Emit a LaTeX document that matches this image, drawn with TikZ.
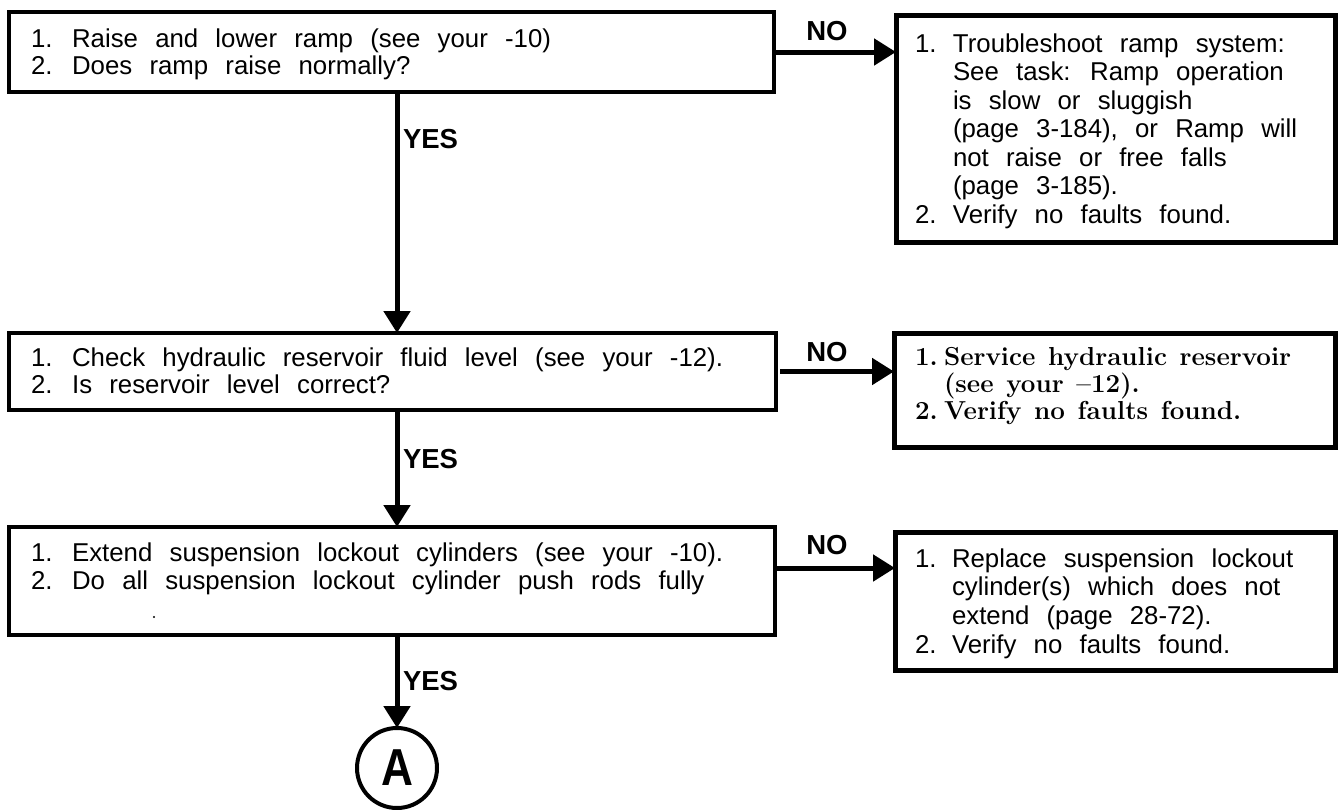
\documentclass[tikz,border=0pt]{standalone}
\usepackage{fontspec}
\setmainfont{Liberation Sans}[WordSpace=2.4]
\newfontfamily\serifb{Latin Modern Roman}[WordSpace=1.3]
\usetikzlibrary{arrows.meta}
\tikzset{
  lbox/.style={draw, line width=4pt, rectangle, inner sep=0pt, outer sep=0pt, anchor=north west},
  rbox/.style={draw, line width=5pt, rectangle, inner sep=0pt, outer sep=0pt, anchor=north west},
  conn/.style={line width=5pt, -{Triangle[length=22pt,width=26pt]}},
  txt/.style={anchor=base west, inner sep=0pt, outer sep=0pt},
  yn/.style={font=\fontsize{27.5}{30}\selectfont\bfseries, inner sep=0pt, outer sep=0pt},
}
\begin{document}
\begin{tikzpicture}[x=1pt,y=-1pt]
\useasboundingbox (0,0) rectangle (1338,809);
% boxes
\node[lbox, minimum width=765pt, minimum height=80pt] (b1) at (9,12) {};
\node[rbox, minimum width=439pt, minimum height=227pt] (r1) at (896,15) {};
\node[lbox, minimum width=767pt, minimum height=77pt] (b2) at (9,333) {};
\node[rbox, minimum width=441pt, minimum height=114pt] (r2) at (894,333) {};
\node[lbox, minimum width=766pt, minimum height=108pt] (b3) at (9,527) {};
\node[rbox, minimum width=440pt, minimum height=138pt] (r3) at (895,532) {};
\node[draw, circle, line width=4pt, minimum size=80pt, inner sep=0pt, outer sep=0pt,
      font=\fontsize{52}{54}\selectfont\bfseries] (A) at (397,768) {\scalebox{0.85}[1]{A}};
% texts
\node[txt] (t1) at (31,47) {\begin{minipage}[t]{720pt}\fontsize{25.8}{27}\selectfont
1. Raise and lower ramp (see your -10)\\
2. Does ramp raise normally?\end{minipage}};
\node[txt] (t2) at (31,366) {\begin{minipage}[t]{740pt}\fontsize{25.8}{27.5}\selectfont
1. Check hydraulic reservoir fluid level (see your -12).\\
2. Is reservoir level correct?\end{minipage}};
\node[txt] (t3) at (31,561) {\begin{minipage}[t]{740pt}\fontsize{25.8}{28}\selectfont
1. Extend suspension lockout cylinders (see your -10).\\
2. Do all suspension lockout cylinder push rods fully\end{minipage}};
\fill (154,617) circle (1.2pt);
\node[txt] (tr1) at (915,52) {\begin{minipage}[t]{420pt}\fontsize{25.8}{28.5}\selectfont
\makebox[38pt][l]{1.}Troubleshoot ramp system:\\
\hspace*{38pt}See task: Ramp operation\\
\hspace*{38pt}is slow or sluggish\\
\hspace*{38pt}(page 3-184), or Ramp will\\
\hspace*{38pt}not raise or free falls\\
\hspace*{38pt}(page 3-185).\\
\makebox[38pt][l]{2.}Verify no faults found.\end{minipage}};
\node[txt] (tr2) at (915,365) {\begin{minipage}[t]{420pt}\serifb\bfseries\fontsize{26}{27}\selectfont
\makebox[29pt][l]{1.}Service hydraulic reservoir\\
\hspace*{29pt}(see your –12).\\
\makebox[29pt][l]{2.}Verify no faults found.\end{minipage}};
\node[txt] (tr3) at (915,567) {\begin{minipage}[t]{420pt}\fontsize{25.8}{28.7}\selectfont
\makebox[37pt][l]{1.}Replace suspension lockout\\
\hspace*{37pt}cylinder(s) which does not\\
\hspace*{37pt}extend (page 28-72).\\
\makebox[37pt][l]{2.}Verify no faults found.\end{minipage}};
% connectors
\draw[conn] (b1.east) -- (b1.east -| r1.west);
\path ([xshift=4pt]b2.east) coordinate (n2s);
\draw[conn] (n2s) -- (n2s -| r2.west);
\path ([yshift=13pt]b3.east) coordinate (n3s);
\draw[conn] (n3s) -- (n3s -| r3.west);
\draw[conn] (b1.south -| A.center) -- (b2.north -| A.center);
\draw[conn] (b2.south -| A.center) -- (b3.north -| A.center);
\draw[conn] (b3.south -| A.center) -- (A.north);
% labels
\node[yn, anchor=center] (no1) at (827,31) {NO};
\node[yn, anchor=center] (no2) at (827,352) {NO};
\node[yn, anchor=center] (no3) at (827,545) {NO};
\node[yn, anchor=west] (yes1) at (403,139) {YES};
\node[yn, anchor=west] (yes2) at (403,459) {YES};
\node[yn, anchor=west] (yes3) at (403,681) {YES};
\end{tikzpicture}
\end{document}
